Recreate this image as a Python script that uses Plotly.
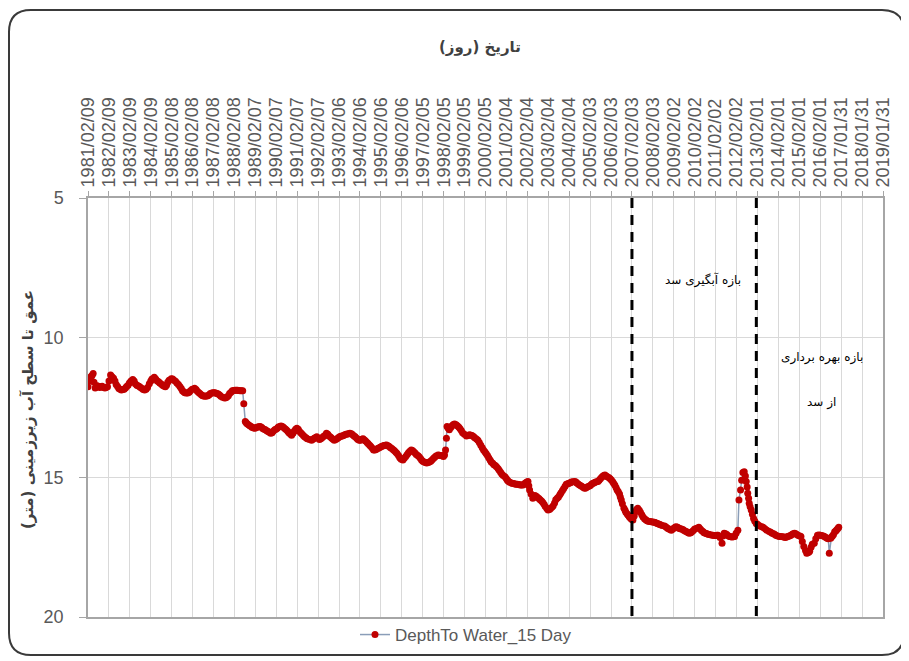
import plotly.graph_objects as go

# ---------------- data ----------------
dates = [
    "1981-02-09", "1981-02-25", "1981-03-15", "1981-04-01", "1981-04-20", "1981-05-10", "1981-05-25", "1981-06-15", "1981-07-15", "1981-08-10", "1981-09-01", "1981-09-25", "1981-10-15", "1981-11-10", "1981-12-01", "1981-12-20",
    "1982-01-15", "1982-02-10", "1982-03-10", "1982-04-05", "1982-05-01", "1982-05-25", "1982-06-15", "1982-07-10", "1982-08-01", "1982-08-25", "1982-09-15", "1982-10-10", "1982-11-01", "1982-11-25", "1982-12-15",
    "1983-01-10", "1983-02-01", "1983-03-01", "1983-04-01", "1983-04-25", "1983-05-15", "1983-06-10", "1983-07-01", "1983-07-25", "1983-08-15", "1983-09-10", "1983-10-01", "1983-10-25", "1983-11-20", "1983-12-15",
    "1984-01-15", "1984-02-10", "1984-03-01", "1984-04-10", "1984-05-05", "1984-06-01", "1984-06-25", "1984-07-15", "1984-08-10", "1984-09-01", "1984-09-25", "1984-10-20", "1984-11-10", "1984-12-01", "1984-12-25",
    "1985-02-01", "1985-02-25", "1985-03-20", "1985-04-15", "1985-05-10", "1985-06-05", "1985-07-01", "1985-07-25", "1985-08-15", "1985-09-05", "1985-09-25", "1985-10-20", "1985-11-15", "1985-12-10",
    "1986-01-01", "1986-02-01", "1986-03-15", "1986-04-10", "1986-05-01", "1986-05-25", "1986-06-15", "1986-07-10", "1986-08-01", "1986-08-25", "1986-09-15", "1986-10-10", "1986-11-01", "1986-11-25", "1986-12-15",
    "1987-01-10", "1987-02-01", "1987-02-25", "1987-03-15", "1987-04-10", "1987-05-01", "1987-05-25", "1987-06-15", "1987-07-15", "1987-08-20", "1987-09-10", "1987-10-01", "1987-10-25", "1987-11-15", "1987-12-10",
    "1988-01-01", "1988-01-25", "1988-02-15", "1988-03-10", "1988-04-01", "1988-04-25", "1988-05-15", "1988-06-10", "1988-07-01", "1988-07-20", "1988-08-15", "1988-09-01", "1988-09-15", "1988-10-10", "1988-11-01", "1988-11-25", "1988-12-15",
    "1989-01-10", "1989-02-01", "1989-02-25", "1989-03-15", "1989-04-10", "1989-05-01", "1989-05-25", "1989-06-15", "1989-07-10", "1989-08-01", "1989-08-25", "1989-09-15", "1989-10-10", "1989-11-01", "1989-11-25", "1989-12-15",
    "1990-01-10", "1990-02-01", "1990-02-25", "1990-03-15", "1990-04-10", "1990-05-01", "1990-05-25", "1990-06-15", "1990-07-10", "1990-08-01", "1990-08-25", "1990-09-15", "1990-10-10", "1990-11-01", "1990-11-25", "1990-12-15",
    "1991-01-10", "1991-02-01", "1991-02-25", "1991-03-15", "1991-04-10", "1991-05-01", "1991-05-25", "1991-06-15", "1991-07-10", "1991-08-01", "1991-09-10", "1991-10-15", "1991-11-10", "1991-12-01", "1991-12-25",
    "1992-01-15", "1992-02-10", "1992-03-01", "1992-03-25", "1992-04-15", "1992-05-10", "1992-06-01", "1992-07-01", "1992-07-25", "1992-08-15", "1992-09-10", "1992-10-01", "1992-10-25", "1992-11-15", "1992-12-10",
    "1993-01-01", "1993-01-25", "1993-02-15", "1993-03-10", "1993-04-01", "1993-04-25", "1993-05-15", "1993-06-10", "1993-07-01", "1993-07-25", "1993-08-15", "1993-09-10", "1993-10-01", "1993-10-25", "1993-11-15", "1993-12-10",
    "1994-01-01", "1994-01-25", "1994-02-15", "1994-03-10", "1994-04-01", "1994-04-25", "1994-05-15", "1994-06-10", "1994-07-01", "1994-07-25", "1994-08-15", "1994-09-10", "1994-10-01", "1994-10-25", "1994-11-15", "1994-12-10",
    "1995-01-01", "1995-01-25", "1995-02-15", "1995-03-10", "1995-04-01", "1995-04-25", "1995-05-15", "1995-06-10", "1995-07-01", "1995-07-25", "1995-08-15", "1995-09-10", "1995-10-01", "1995-10-25", "1995-11-15", "1995-12-10",
    "1996-01-01", "1996-01-25", "1996-02-25", "1996-03-20", "1996-04-15", "1996-05-10", "1996-06-01", "1996-06-25", "1996-07-20", "1996-08-10", "1996-09-01", "1996-09-25", "1996-10-15", "1996-11-10", "1996-12-01", "1996-12-25",
    "1997-01-15", "1997-02-05", "1997-03-01", "1997-03-25", "1997-04-15", "1997-05-10", "1997-06-01", "1997-06-25", "1997-07-15", "1997-08-10", "1997-09-01", "1997-09-25", "1997-10-30", "1997-11-20", "1997-12-15",
    "1998-01-10", "1998-02-01", "1998-02-20", "1998-03-10", "1998-03-25", "1998-04-05", "1998-04-25", "1998-05-15", "1998-06-10", "1998-07-01", "1998-07-25", "1998-08-15", "1998-09-10", "1998-10-01", "1998-10-25", "1998-11-15", "1998-12-10",
    "1999-01-01", "1999-02-01", "1999-03-10", "1999-04-05", "1999-05-01", "1999-05-25", "1999-06-15", "1999-07-10", "1999-08-01", "1999-09-01", "1999-09-25", "1999-10-20", "1999-11-15", "1999-12-10",
    "2000-01-01", "2000-01-25", "2000-02-15", "2000-03-10", "2000-04-01", "2000-04-25", "2000-05-15", "2000-06-10", "2000-07-01", "2000-07-25", "2000-08-15", "2000-09-10", "2000-10-01", "2000-10-25", "2000-11-15", "2000-12-10",
    "2001-01-10", "2001-02-01", "2001-02-20", "2001-03-10", "2001-04-01", "2001-04-25", "2001-05-15", "2001-06-10", "2001-07-01", "2001-07-25", "2001-08-15", "2001-09-10", "2001-10-01", "2001-10-25", "2001-11-20", "2001-12-10",
    "2002-01-01", "2002-01-25", "2002-02-15", "2002-03-01", "2002-03-15", "2002-04-10", "2002-05-10", "2002-05-25", "2002-06-15", "2002-07-10", "2002-08-01", "2002-08-25", "2002-09-15", "2002-10-10", "2002-11-01", "2002-11-25", "2002-12-15",
    "2003-01-10", "2003-02-01", "2003-02-25", "2003-03-15", "2003-04-10", "2003-05-01", "2003-05-25", "2003-06-15", "2003-07-10", "2003-08-01", "2003-08-25", "2003-09-15", "2003-10-10", "2003-11-01", "2003-11-25", "2003-12-15",
    "2004-01-10", "2004-02-01", "2004-02-25", "2004-03-15", "2004-04-10", "2004-05-10", "2004-06-01", "2004-06-15", "2004-07-10", "2004-08-01", "2004-08-25", "2004-09-15", "2004-10-10", "2004-10-30", "2004-11-20", "2004-12-15",
    "2005-01-10", "2005-02-01", "2005-02-25", "2005-03-15", "2005-04-10", "2005-05-01", "2005-05-25", "2005-06-20", "2005-07-10", "2005-08-01", "2005-08-25", "2005-09-15", "2005-10-05", "2005-10-20", "2005-11-10", "2005-12-01", "2005-12-25",
    "2006-01-15", "2006-02-05", "2006-03-01", "2006-03-20", "2006-04-10", "2006-05-01", "2006-05-20", "2006-06-10", "2006-07-01", "2006-07-15", "2006-08-01", "2006-08-20", "2006-09-15", "2006-10-05", "2006-10-20", "2006-11-10", "2006-11-25", "2006-12-15",
    "2007-01-01", "2007-01-25", "2007-02-20", "2007-03-15", "2007-04-10", "2007-04-25", "2007-05-15", "2007-06-10", "2007-07-01", "2007-07-25", "2007-08-15", "2007-09-10", "2007-10-01", "2007-10-25", "2007-11-15", "2007-12-10",
    "2008-01-05", "2008-02-01", "2008-02-25", "2008-03-15", "2008-04-10", "2008-05-01", "2008-05-25", "2008-06-15", "2008-07-15", "2008-08-25", "2008-09-20", "2008-10-15", "2008-11-10", "2008-12-01", "2008-12-20",
    "2009-01-10", "2009-02-01", "2009-02-25", "2009-03-15", "2009-04-10", "2009-05-01", "2009-05-25", "2009-06-15", "2009-07-10", "2009-08-01", "2009-08-25", "2009-09-15", "2009-10-10", "2009-11-01", "2009-11-25", "2009-12-15",
    "2010-01-10", "2010-02-01", "2010-03-10", "2010-04-15", "2010-05-10", "2010-06-01", "2010-06-25", "2010-07-15", "2010-08-10", "2010-09-01", "2010-09-25", "2010-10-15", "2010-11-15", "2010-12-15",
    "2011-01-10", "2011-02-01", "2011-02-25", "2011-03-15", "2011-04-20", "2011-05-25", "2011-06-10", "2011-07-01", "2011-07-25", "2011-08-15", "2011-09-10", "2011-10-01", "2011-10-25", "2011-11-15", "2011-12-10", "2011-12-30",
    "2012-01-25", "2012-02-25", "2012-03-15", "2012-04-12", "2012-05-01", "2012-05-22", "2012-06-15", "2012-07-05", "2012-07-20", "2012-08-05", "2012-08-15", "2012-08-30", "2012-09-10", "2012-09-25", "2012-10-15", "2012-11-05", "2012-11-25", "2012-12-15",
    "2013-01-10", "2013-02-01", "2013-02-20", "2013-03-15", "2013-04-20", "2013-05-15", "2013-06-15", "2013-07-15", "2013-08-25", "2013-09-20", "2013-10-15", "2013-11-10", "2013-12-01", "2013-12-25",
    "2014-01-20", "2014-02-20", "2014-03-15", "2014-04-15", "2014-05-10", "2014-06-01", "2014-06-25", "2014-07-15", "2014-08-10", "2014-09-01", "2014-09-25", "2014-10-15", "2014-11-10", "2014-12-01", "2014-12-20",
    "2015-01-15", "2015-02-10", "2015-03-01", "2015-03-25", "2015-04-20", "2015-05-20", "2015-06-10", "2015-06-25", "2015-07-15", "2015-08-01", "2015-08-25", "2015-09-15", "2015-10-20", "2015-11-15", "2015-12-15",
    "2016-01-10", "2016-02-01", "2016-02-25", "2016-03-25", "2016-04-15", "2016-05-10", "2016-06-01", "2016-06-20", "2016-07-08", "2016-08-01", "2016-08-15", "2016-09-01", "2016-09-20", "2016-10-10", "2016-10-30", "2016-11-15", "2016-12-05", "2016-12-20",
]

depth_m = [
    11.76, 11.55, 11.45, 11.40, 11.35, 11.28, 11.60, 11.80, 11.72, 11.74, 11.78, 11.76, 11.74, 11.78, 11.80, 11.78,
    11.76, 11.55, 11.34, 11.40, 11.45, 11.55, 11.68, 11.75, 11.82, 11.85, 11.87, 11.86, 11.85, 11.80, 11.75,
    11.70, 11.62, 11.55, 11.50, 11.55, 11.65, 11.70, 11.72, 11.75, 11.78, 11.82, 11.86, 11.87, 11.85, 11.78,
    11.65, 11.55, 11.48, 11.42, 11.48, 11.55, 11.58, 11.62, 11.66, 11.70, 11.73, 11.76, 11.70, 11.60, 11.52,
    11.47, 11.48, 11.52, 11.56, 11.62, 11.68, 11.75, 11.82, 11.90, 11.94, 11.97, 11.98, 11.98, 11.95,
    11.90, 11.85, 11.81, 11.86, 11.92, 11.96, 12.00, 12.04, 12.08, 12.09, 12.10, 12.09, 12.08, 12.04, 12.00,
    11.98, 11.97, 11.97, 11.98, 12.00, 12.02, 12.05, 12.10, 12.13, 12.16, 12.15, 12.12, 12.08, 12.00, 11.95,
    11.90, 11.89, 11.88, 11.88, 11.88, 11.89, 11.90, 11.90, 11.90, 12.37, 13.00, 13.05, 13.08, 13.12, 13.15, 13.18, 13.22,
    13.23, 13.24, 13.22, 13.20, 13.19, 13.18, 13.21, 13.25, 13.28, 13.30, 13.33, 13.36, 13.39, 13.42, 13.40, 13.35,
    13.30, 13.28, 13.24, 13.20, 13.18, 13.16, 13.18, 13.22, 13.26, 13.30, 13.35, 13.40, 13.45, 13.49, 13.42, 13.35,
    13.28, 13.24, 13.28, 13.35, 13.40, 13.45, 13.50, 13.55, 13.58, 13.62, 13.65, 13.67, 13.64, 13.60, 13.57,
    13.55, 13.60, 13.65, 13.62, 13.58, 13.54, 13.50, 13.42, 13.46, 13.52, 13.56, 13.60, 13.64, 13.67, 13.65,
    13.62, 13.58, 13.55, 13.53, 13.52, 13.50, 13.48, 13.46, 13.45, 13.44, 13.42, 13.44, 13.48, 13.52, 13.55, 13.60,
    13.65, 13.67, 13.67, 13.64, 13.62, 13.66, 13.70, 13.75, 13.80, 13.85, 13.90, 13.96, 14.02, 14.02, 14.00, 13.97,
    13.95, 13.92, 13.90, 13.88, 13.86, 13.85, 13.84, 13.87, 13.90, 13.94, 13.97, 14.01, 14.05, 14.10, 14.15, 14.22,
    14.30, 14.35, 14.38, 14.32, 14.25, 14.18, 14.12, 14.07, 14.02, 14.04, 14.08, 14.13, 14.18, 14.22, 14.25, 14.32,
    14.38, 14.42, 14.45, 14.47, 14.49, 14.47, 14.45, 14.42, 14.38, 14.33, 14.28, 14.24, 14.20, 14.21, 14.22,
    14.23, 14.25, 14.20, 14.02, 13.60, 13.18, 13.24, 13.30, 13.22, 13.15, 13.11, 13.09, 13.12, 13.15, 13.20, 13.25, 13.32,
    13.40, 13.46, 13.52, 13.50, 13.48, 13.49, 13.50, 13.54, 13.58, 13.63, 13.67, 13.75, 13.85, 13.94,
    14.02, 14.08, 14.15, 14.22, 14.30, 14.38, 14.45, 14.50, 14.55, 14.58, 14.62, 14.68, 14.75, 14.82, 14.88, 14.93,
    14.98, 15.04, 15.10, 15.14, 15.18, 15.20, 15.21, 15.22, 15.24, 15.25, 15.25, 15.26, 15.27, 15.27, 15.27, 15.24,
    15.20, 15.17, 15.15, 15.30, 15.45, 15.60, 15.75, 15.70, 15.65, 15.68, 15.72, 15.76, 15.80, 15.85, 15.90, 15.97, 16.05,
    16.12, 16.17, 16.15, 16.12, 16.07, 16.02, 15.92, 15.80, 15.75, 15.70, 15.62, 15.55, 15.47, 15.40, 15.32, 15.25,
    15.23, 15.21, 15.19, 15.17, 15.16, 15.15, 15.17, 15.20, 15.24, 15.27, 15.30, 15.33, 15.36, 15.39, 15.38, 15.35,
    15.32, 15.30, 15.26, 15.22, 15.20, 15.18, 15.16, 15.15, 15.10, 15.05, 15.00, 14.95, 14.93, 14.92, 14.95, 14.98, 15.01,
    15.04, 15.09, 15.15, 15.21, 15.27, 15.36, 15.45, 15.52, 15.60, 15.70, 15.81, 15.95, 16.10, 16.18, 16.25, 16.30, 16.35, 16.40,
    16.45, 16.50, 16.53, 16.38, 16.22, 16.15, 16.11, 16.18, 16.25, 16.34, 16.42, 16.48, 16.52, 16.55, 16.57, 16.58,
    16.59, 16.60, 16.61, 16.62, 16.64, 16.66, 16.68, 16.70, 16.72, 16.74, 16.78, 16.82, 16.85, 16.87, 16.89,
    16.86, 16.82, 16.79, 16.77, 16.79, 16.82, 16.84, 16.85, 16.87, 16.90, 16.93, 16.95, 16.98, 17.00, 16.98, 16.95,
    16.90, 16.85, 16.82, 16.79, 16.85, 16.90, 16.94, 16.98, 17.00, 17.02, 17.04, 17.05, 17.06, 17.07,
    17.08, 17.08, 17.07, 17.07, 17.15, 17.36, 17.10, 17.00, 17.02, 17.05, 17.09, 17.12, 17.13, 17.14, 17.13, 17.12,
    17.00, 16.89, 15.81, 15.45, 15.10, 14.83, 14.80, 14.95, 15.15, 15.35, 15.57, 15.75, 15.93, 16.05, 16.17, 16.32, 16.47, 16.56,
    16.65, 16.68, 16.72, 16.74, 16.77, 16.80, 16.85, 16.89, 16.94, 16.97, 17.00, 17.02, 17.05, 17.08,
    17.10, 17.12, 17.12, 17.13, 17.14, 17.15, 17.14, 17.12, 17.10, 17.08, 17.05, 17.02, 17.00, 17.02, 17.05,
    17.08, 17.10, 17.12, 17.30, 17.48, 17.62, 17.72, 17.70, 17.68, 17.65, 17.50, 17.40, 17.36, 17.20, 17.07,
    17.06, 17.07, 17.08, 17.10, 17.12, 17.15, 17.18, 17.20, 17.72, 17.18, 17.14, 17.10, 17.05, 16.95, 16.92, 16.88, 16.83, 16.79,
]

tick_labels = [
    "1981/02/09", "1982/02/09", "1983/02/09", "1984/02/09", "1985/02/08", "1986/02/08",
    "1987/02/08", "1988/02/08", "1989/02/07", "1990/02/07", "1991/02/07", "1992/02/07",
    "1993/02/06", "1994/02/06", "1995/02/06", "1996/02/06", "1997/02/05", "1998/02/05",
    "1999/02/05", "2000/02/05", "2001/02/04", "2002/02/04", "2003/02/04", "2004/02/04",
    "2005/02/03", "2006/02/03", "2007/02/03", "2008/02/03", "2009/02/02", "2010/02/02",
    "2011/02/02", "2012/02/02", "2013/02/01", "2014/02/01", "2015/02/01", "2016/02/01",
    "2017/01/31", "2018/01/31", "2019/01/31",
]

period_bounds = ["2007-02-03", "2013-01-12"]
y_ticks = [5, 10, 15, 20]

series_name = "DepthTo Water_15 Day"
title_text = "تاریخ (روز)"
y_title_text = "عمق تا سطح آب زیرزمینی (متر)"
note_fill = "بازه آبگیری سد"
note_use_1 = "بازه بهره برداری"
note_use_2 = "از سد"

# ---------------- figure ----------------
# the page body has an 8px default margin: lay the figure out so that
# screen pixel (px, py) corresponds to figure pixel (px-8, py-8)
OFF = 8
W, H = 909 - OFF, 661 - OFF
PLOT_L, PLOT_R, PLOT_T, PLOT_B = 88, 883, 198, 617   # screen pixels
L, R, T, B = PLOT_L - OFF, 909 - PLOT_R, PLOT_T - OFF, 661 - PLOT_B
PW, PH = W - L - R, H - T - B


def px_x(px):
    return (px - PLOT_L) / PW


def px_y(py):
    return (PLOT_B - py) / PH


tick_vals = [s.replace("/", "-") for s in tick_labels]

fig = go.Figure()
fig.add_trace(go.Scatter(
    x=dates, y=depth_m, mode="lines+markers", name=series_name,
    line=dict(color="#8A9DB8", width=1.5),
    marker=dict(color="#C00000", size=7),
))

for d in period_bounds:
    fig.add_shape(type="line", x0=d, x1=d, xref="x", y0=5, y1=20, yref="y",
                  line=dict(color="black", width=3, dash="10px,7px"))

# outer rounded frame
x0, x1 = px_x(9), px_x(904)
y0, y1 = px_y(655), px_y(10)
rx, ry = 22 / PW, 22 / PH
path = (f"M {x0+rx},{y1} L {x1-rx},{y1} Q {x1},{y1} {x1},{y1-ry} "
        f"L {x1},{y0+ry} Q {x1},{y0} {x1-rx},{y0} L {x0+rx},{y0} "
        f"Q {x0},{y0} {x0},{y0+ry} L {x0},{y1-ry} Q {x0},{y1} {x0+rx},{y1} Z")
fig.add_shape(type="path", path=path, xref="paper", yref="paper",
              line=dict(color="#3a3a3a", width=2), layer="below")

ann_font = dict(family="DejaVu Sans", size=12, color="black")
for txt, ax, ay in [(note_fill, 703, 280), (note_use_1, 822, 357), (note_use_2, 821, 402)]:
    fig.add_annotation(x=px_x(ax), y=px_y(ay), xref="paper", yref="paper",
                       xanchor="center", yanchor="middle",
                       text=txt, showarrow=False, font=ann_font)

fig.add_annotation(x=px_x(480), y=px_y(47), xref="paper", yref="paper",
                   xanchor="center", yanchor="middle",
                   text=f"<b>{title_text}</b>", showarrow=False,
                   font=dict(family="DejaVu Sans", size=15, color="#404040"))
fig.add_annotation(x=px_x(28), y=px_y(410), xref="paper", yref="paper",
                   xanchor="center", yanchor="middle",
                   text=f"<b>{y_title_text}</b>", showarrow=False, textangle=-90,
                   font=dict(family="DejaVu Sans", size=15, color="#404040"))

fig.update_layout(
    width=W, height=H,
    margin=dict(l=L, r=R, t=T, b=B, autoexpand=False),
    paper_bgcolor="white", plot_bgcolor="white",
    font=dict(family="Liberation Sans", color="#595959"),
    showlegend=True,
    legend=dict(orientation="h", x=px_x(466), xanchor="center", y=px_y(635), yanchor="middle",
                font=dict(size=17, color="#595959"), bgcolor="rgba(0,0,0,0)"),
    xaxis=dict(
        type="date", side="top", range=["1981-02-09", "2019-01-31"],
        tickmode="array", tickvals=tick_vals, ticktext=tick_labels,
        tickangle=-90, tickfont=dict(size=18, color="#595959"),
        showgrid=True, gridcolor="#D9D9D9", gridwidth=1,
        showline=True, linecolor="#A6A6A6", linewidth=2, mirror=True,
        ticks="outside", ticklen=5, tickcolor="#A6A6A6", zeroline=False,
        automargin=False,
    ),
    yaxis=dict(
        range=[20, 5], tickmode="array", tickvals=y_ticks,
        tickfont=dict(size=18, color="#595959"),
        showgrid=True, gridcolor="#D9D9D9", gridwidth=1,
        showline=True, linecolor="#A6A6A6", linewidth=1.5, mirror=True,
        ticks="outside", ticklen=7, tickcolor="#A6A6A6", zeroline=False,
        ticklabelstandoff=12, automargin=False,
    ),
)

fig.write_html("out.html")
